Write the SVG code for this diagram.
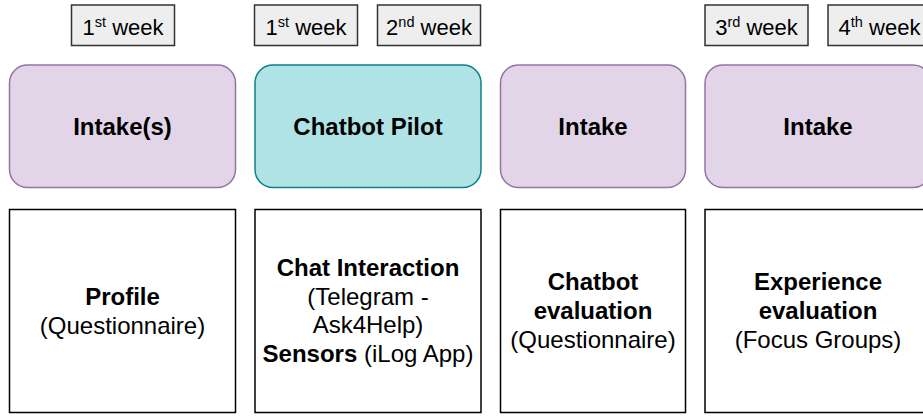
<svg xmlns="http://www.w3.org/2000/svg" width="923" height="416" viewBox="0 0 923 416">
  <style>
    .wk { fill: #eeeeee; stroke: #333333; stroke-width: 1.5; }
    .intake { fill: #e1d5e7; stroke: #9673a6; stroke-width: 1.5; }
    .pilot { fill: #b0e3e6; stroke: #0e8088; stroke-width: 1.5; }
    .body { fill: #ffffff; stroke: #000000; stroke-width: 1.5; }
    text { font-family: "Liberation Sans", Arial, Helvetica, sans-serif; fill: #000000; text-anchor: middle; }
    .wt { font-size: 22px; }
    .sup { font-size: 14.5px; }
    .t { font-size: 24px; font-weight: bold; }
    .b { font-size: 24px; }
    .bold { font-weight: bold; }
  </style>
  <rect width="923" height="416" fill="#ffffff"/>

  <g id="week-1a">
    <rect class="wk" x="71.5" y="5" width="103" height="40.5"/>
    <text class="wt" x="123" y="34.5">1<tspan class="sup" dy="-8">st</tspan><tspan dy="8"> week</tspan></text>
  </g>
  <g id="week-1b">
    <rect class="wk" x="254.5" y="5" width="103" height="40.5"/>
    <text class="wt" x="306" y="34.5">1<tspan class="sup" dy="-8">st</tspan><tspan dy="8"> week</tspan></text>
  </g>
  <g id="week-2">
    <rect class="wk" x="377.5" y="5" width="103" height="40.5"/>
    <text class="wt" x="429" y="34.5">2<tspan class="sup" dy="-8">nd</tspan><tspan dy="8"> week</tspan></text>
  </g>
  <g id="week-3">
    <rect class="wk" x="705" y="5" width="103" height="40.5"/>
    <text class="wt" x="756.5" y="34.5">3<tspan class="sup" dy="-8">rd</tspan><tspan dy="8"> week</tspan></text>
  </g>
  <g id="week-4">
    <rect class="wk" x="828" y="5" width="103" height="40.5"/>
    <text class="wt" x="879.5" y="34.5">4<tspan class="sup" dy="-8">th</tspan><tspan dy="8"> week</tspan></text>
  </g>

  <g id="phase-intakes">
    <rect class="intake" x="9.5" y="65" width="226" height="122.5" rx="18" ry="18"/>
    <text class="t" x="122.5" y="135">Intake(s)</text>
  </g>
  <g id="phase-pilot">
    <rect class="pilot" x="255" y="65" width="226" height="122.5" rx="18" ry="18"/>
    <text class="t" x="368" y="135">Chatbot Pilot</text>
  </g>
  <g id="phase-intake-2">
    <rect class="intake" x="500.5" y="65" width="185" height="122.5" rx="18" ry="18"/>
    <text class="t" x="593" y="135">Intake</text>
  </g>
  <g id="phase-intake-3">
    <rect class="intake" x="705" y="65" width="226" height="122.5" rx="18" ry="18"/>
    <text class="t" x="818" y="135">Intake</text>
  </g>

  <g id="detail-profile">
    <rect class="body" x="9.5" y="209.5" width="226" height="203"/>
    <text class="b" x="122.5" y="305"><tspan class="bold">Profile</tspan></text>
    <text class="b" x="122.5" y="334">(Questionnaire)</text>
  </g>
  <g id="detail-chat">
    <rect class="body" x="255" y="209.5" width="226" height="203"/>
    <text class="b" x="368" y="276"><tspan class="bold">Chat Interaction</tspan></text>
    <text class="b" x="368" y="304.5">(Telegram -</text>
    <text class="b" x="368" y="333">Ask4Help)</text>
    <text class="b" x="368" y="361.5"><tspan class="bold">Sensors</tspan> (iLog App)</text>
  </g>
  <g id="detail-chatbot-eval">
    <rect class="body" x="500.5" y="209.5" width="185" height="203"/>
    <text class="b" x="593" y="290"><tspan class="bold">Chatbot</tspan></text>
    <text class="b" x="593" y="319"><tspan class="bold">evaluation</tspan></text>
    <text class="b" x="593" y="348">(Questionnaire)</text>
  </g>
  <g id="detail-experience-eval">
    <rect class="body" x="705" y="209.5" width="226" height="203"/>
    <text class="b" x="818" y="290"><tspan class="bold">Experience</tspan></text>
    <text class="b" x="818" y="319"><tspan class="bold">evaluation</tspan></text>
    <text class="b" x="818" y="348">(Focus Groups)</text>
  </g>

  <g id="connectors"></g>
</svg>
